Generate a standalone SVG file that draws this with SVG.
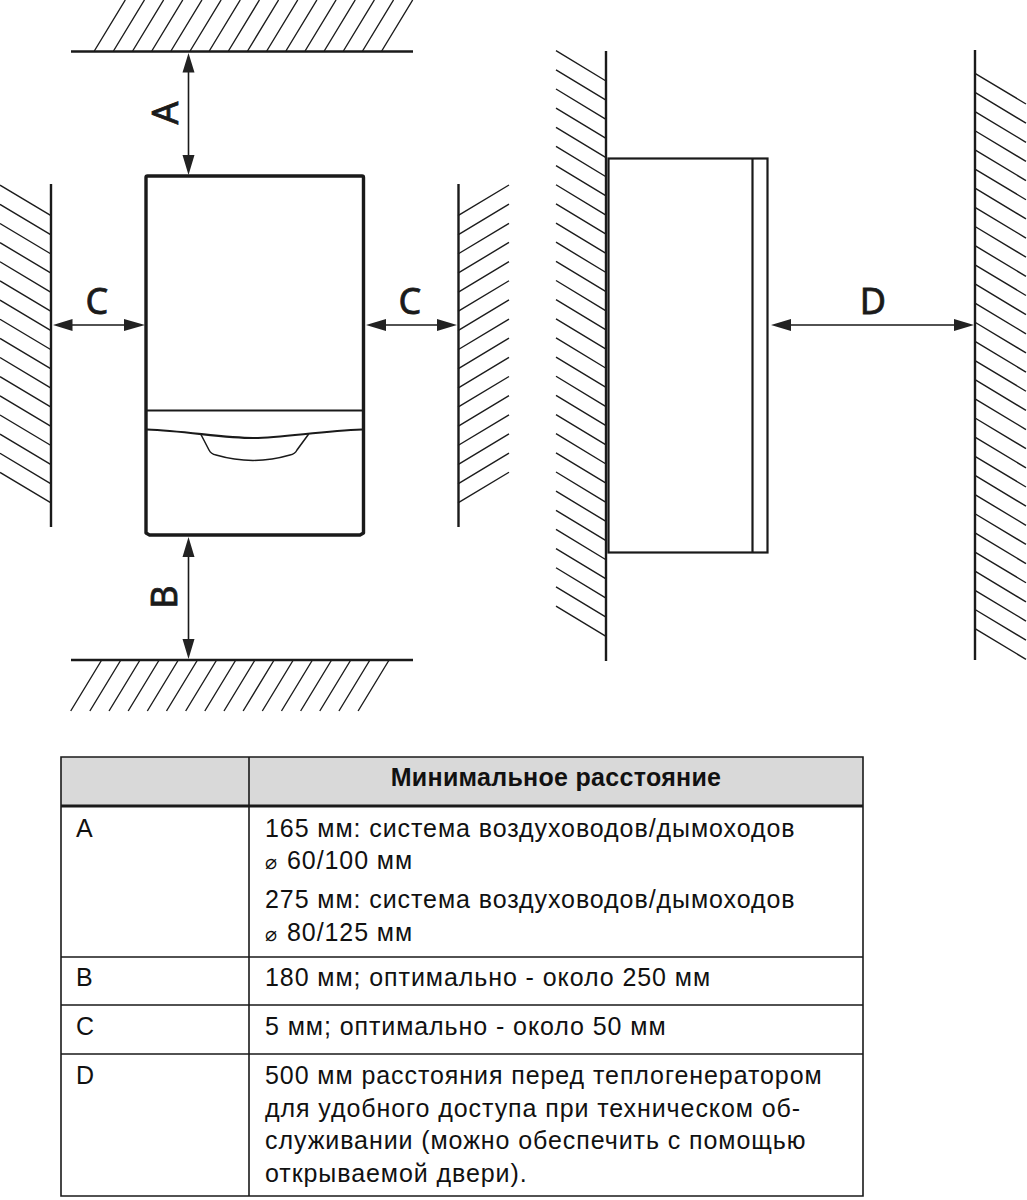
<svg xmlns="http://www.w3.org/2000/svg" width="1027" height="1200" viewBox="0 0 1027 1200">
<style>
.hatch{fill:none;stroke:#1c1c1c;stroke-width:1.4}
.wall{fill:none;stroke:#1a1a1a;stroke-width:2.4}
.body{fill:none;stroke:#1a1a1a;stroke-width:3.4}
.side{fill:none;stroke:#1a1a1a;stroke-width:2.2}
.thin{fill:none;stroke:#1a1a1a;stroke-width:1.5}
.dim{stroke:#1a1a1a;stroke-width:1.6;fill:none}
.head{fill:#222;stroke:none}
.letter{font-family:"Noto Sans",sans-serif;font-size:36px;fill:#1a1a1a;stroke:#1a1a1a;stroke-width:.8;text-anchor:middle}
.cell{font-family:"Liberation Sans",Arial,sans-serif;font-size:25px;letter-spacing:.92px;fill:#111}
.hdr{font-family:"Liberation Sans",Arial,sans-serif;font-size:25px;font-weight:bold;letter-spacing:.3px;fill:#111;text-anchor:middle}
.dia{font-family:"DejaVu Sans",sans-serif;font-size:20px;letter-spacing:0}
.grid{fill:none;stroke:#1a1a1a;stroke-width:1.6}
</style>
<rect width="1027" height="1200" fill="#fff"/>
<g id="wall-top">
<path class="hatch" d="M94.3 51l31-51m-11.84 51l31-51m-11.84 51l31-51m-11.84 51l31-51m-11.84 51l31-51m-11.84 51l31-51m-11.84 51l31-51m-11.84 51l31-51m-11.84 51l31-51m-11.84 51l31-51m-11.84 51l31-51m-11.84 51l31-51m-11.84 51l31-51m-11.84 51l31-51m-11.84 51l31-51m-11.84 51l31-51"/>
<path class="wall" d="M71 51.500H413"/>
</g>
<g id="wall-bottom">
<path class="hatch" d="M101.700 660l-31 51m50.160-51l-31 51m50.160-51l-31 51m50.160-51l-31 51m50.160-51l-31 51m50.160-51l-31 51m50.160-51l-31 51m50.160-51l-31 51m50.160-51l-31 51m50.160-51l-31 51m50.160-51l-31 51m50.160-51l-31 51m50.160-51l-31 51m50.160-51l-31 51m50.160-51l-31 51m50.160-51l-31 51"/>
<path class="wall" d="M71 660H413"/>
</g>
<g id="wall-left">
<path class="hatch" d="M0 185.200l51 30.500m-51-11.350l51 30.500m-51-11.350l51 30.500m-51-11.350l51 30.500m-51-11.350l51 30.500m-51-11.350l51 30.500m-51-11.350l51 30.500m-51-11.350l51 30.500m-51-11.350l51 30.500m-51-11.350l51 30.500m-51-11.350l51 30.500m-51-11.350l51 30.500m-51-11.350l51 30.500m-51-11.350l51 30.500m-51-11.350l51 30.500m-51-11.350l51 30.500"/>
<path class="wall" d="M51 184V527"/>
</g>
<g id="wall-right">
<path class="hatch" d="M458 215.700l51-30.700m-51 49.850l51-30.700m-51 49.850l51-30.700m-51 49.850l51-30.700m-51 49.850l51-30.700m-51 49.850l51-30.700m-51 49.850l51-30.700m-51 49.850l51-30.700m-51 49.850l51-30.700m-51 49.850l51-30.700m-51 49.850l51-30.700m-51 49.850l51-30.700m-51 49.850l51-30.700m-51 49.850l51-30.700m-51 49.850l51-30.700m-51 49.850l51-30.700"/>
<path class="wall" d="M458.500 184V527"/>
</g>
<g id="wall-back">
<path class="hatch" d="M556 50.700l50 30.300m-50-11.150l50 30.300m-50-11.150l50 30.300m-50-11.150l50 30.300m-50-11.150l50 30.300m-50-11.150l50 30.300m-50-11.150l50 30.300m-50-11.150l50 30.300m-50-11.150l50 30.300m-50-11.150l50 30.300m-50-11.150l50 30.300m-50-11.150l50 30.300m-50-11.150l50 30.300m-50-11.150l50 30.300m-50-11.150l50 30.300m-50-11.150l50 30.300m-50-11.150l50 30.300m-50-11.150l50 30.300m-50-11.150l50 30.300m-50-11.150l50 30.300m-50-11.150l50 30.300m-50-11.150l50 30.300m-50-11.150l50 30.300m-50-11.150l50 30.300m-50-11.150l50 30.300m-50-11.150l50 30.300m-50-11.150l50 30.300m-50-11.150l50 30.300m-50-11.150l50 30.300m-50-11.150l50 30.300"/>
<path class="wall" d="M606 51V661"/>
</g>
<g id="wall-front">
<path class="hatch" d="M975 73.300l51 30.700m-51-11.550l51 30.700m-51-11.550l51 30.700m-51-11.550l51 30.700m-51-11.550l51 30.700m-51-11.550l51 30.700m-51-11.550l51 30.700m-51-11.550l51 30.700m-51-11.550l51 30.700m-51-11.550l51 30.700m-51-11.550l51 30.700m-51-11.550l51 30.700m-51-11.550l51 30.700m-51-11.550l51 30.700m-51-11.550l51 30.700m-51-11.550l51 30.700m-51-11.550l51 30.700m-51-11.550l51 30.700m-51-11.550l51 30.700m-51-11.550l51 30.700m-51-11.550l51 30.700m-51-11.550l51 30.700m-51-11.550l51 30.700m-51-11.550l51 30.700m-51-11.550l51 30.700m-51-11.550l51 30.700m-51-11.550l51 30.700m-51-11.550l51 30.700m-51-11.550l51 30.700m-51-11.550l51 30.700"/>
<path class="wall" d="M975 50V660"/>
</g>
<g id="unit-front">
<path class="body" d="M146 533V177.500Q146 176 147.500 176H362Q363.500 176 363.500 177.500V533L360 535H149.500Z" stroke-linejoin="round"/>
<path class="side" d="M147 410.500H363"/>
<path class="side" d="M147 429.500C185 431 225 438 253 438C281 438 321 431 362 429.500"/>
<path class="thin" d="M200.700 434L209 450Q211 454 216 455C240 462 266 462 290 455Q295 454 297 450L308.700 434"/>
</g>
<g id="unit-side">
<rect class="side" x="608.500" y="158.500" width="159" height="394"/>
<path class="side" d="M752.500 158.500V552.500"/>
</g>
<g id="connectors">
<path class="dim" d="M188.500 60V168M188.500 545V652M60 325H138M374 325H450M779 325H967"/>
<path class="head" d="M188.500 53L182.500 72.500H194.500ZM188.500 175L182.500 155H194.500ZM188.500 537L182.500 557H194.500ZM188.500 659L182.500 639H194.500Z"/>
<path class="head" d="M53 325L72.500 319V331ZM145 325L124 319V331ZM366 325L386 319V331ZM457 325L437 319V331ZM771 325L791 319V331ZM974 325L954 319V331Z"/>
</g>
<g id="labels">
<text class="letter" transform="translate(178 113) rotate(-90)">A</text>
<text class="letter" transform="translate(177 597) rotate(-90)">B</text>
<text class="letter" x="97" y="314">C</text>
<text class="letter" x="410" y="314">C</text>
<text class="letter" x="873" y="314">D</text>
</g>
<g id="table">
<rect x="61" y="757" width="802" height="48" fill="#d9d9d9"/>
<path class="grid" d="M61 757H863V1196H61ZM249 757V1196M61 957H863M61 1005H863M61 1054H863"/>
<path d="M61 806H863" fill="none" stroke="#1a1a1a" stroke-width="3"/>
<text class="hdr" x="556" y="786">Минимальное расстояние</text>
<text class="cell" x="76" y="837">A</text>
<text class="cell" x="265" y="837">165 мм: система воздуховодов/дымоходов</text>
<text class="cell" x="265" y="869"><tspan class="dia">⌀</tspan><tspan x="287">60/100 мм</tspan></text>
<text class="cell" x="265" y="908">275 мм: система воздуховодов/дымоходов</text>
<text class="cell" x="265" y="941"><tspan class="dia">⌀</tspan><tspan x="287">80/125 мм</tspan></text>
<text class="cell" x="76" y="986">B</text>
<text class="cell" x="265" y="986">180 мм; оптимально - около 250 мм</text>
<text class="cell" x="76" y="1035">C</text>
<text class="cell" x="265" y="1035">5 мм; оптимально - около 50 мм</text>
<text class="cell" x="76" y="1084">D</text>
<text class="cell" x="265" y="1084">500 мм расстояния перед теплогенератором</text>
<text class="cell" x="265" y="1117">для удобного доступа при техническом об-</text>
<text class="cell" x="265" y="1149">служивании (можно обеспечить с помощью</text>
<text class="cell" x="265" y="1182">открываемой двери).</text>
</g>
</svg>
